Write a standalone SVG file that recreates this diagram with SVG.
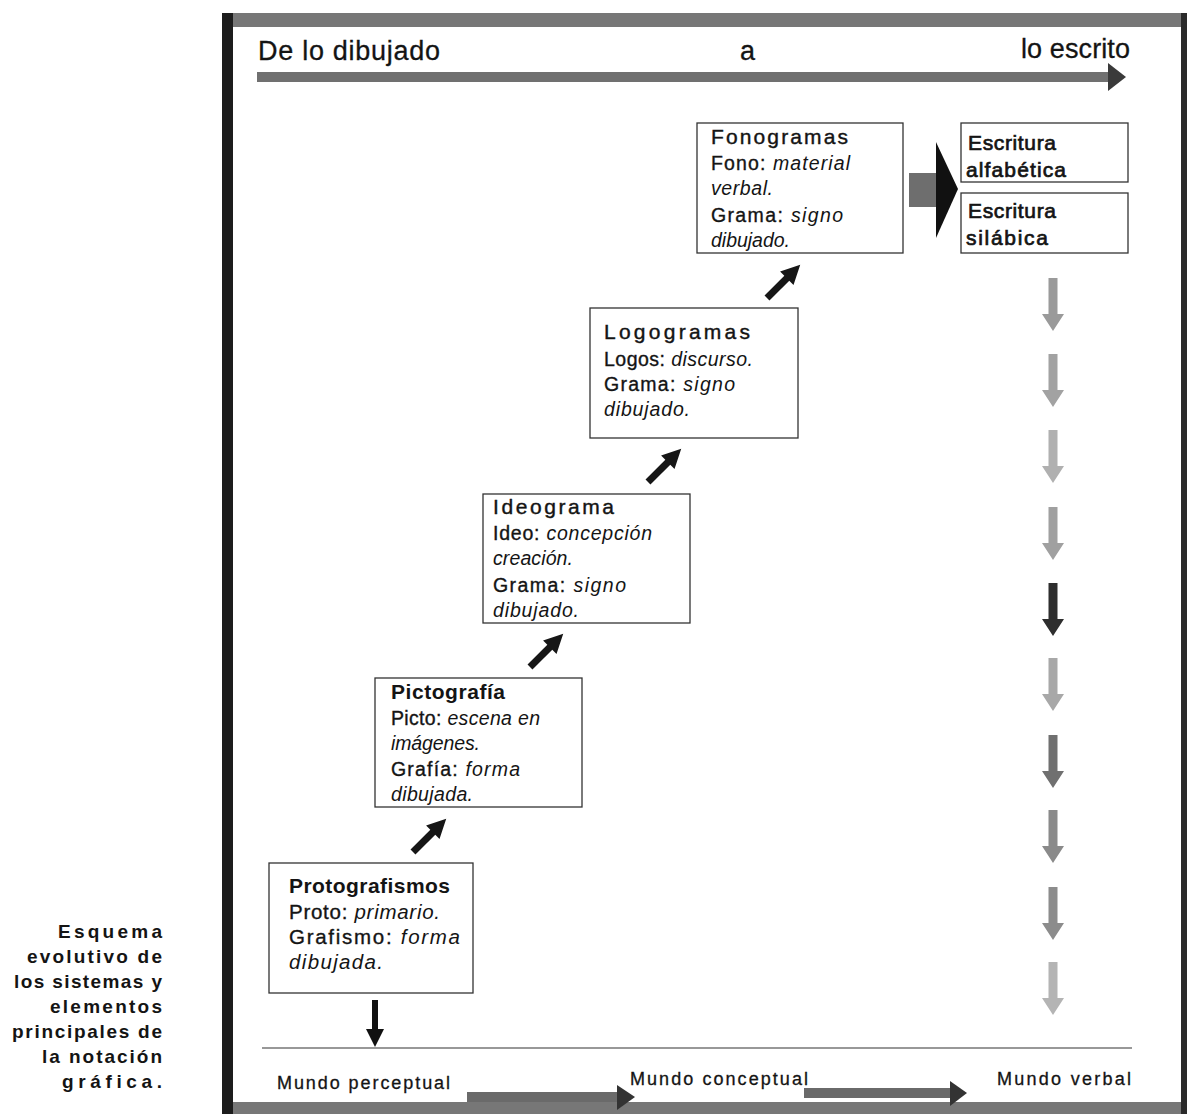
<svg xmlns="http://www.w3.org/2000/svg" xmlns:xlink="http://www.w3.org/1999/xlink" width="1187" height="1116" viewBox="0 0 1187 1116">
<style>
text{font-family:"Liberation Sans",Arial,sans-serif;fill:#141414;}
.t{font-size:21px;stroke:#141414;stroke-width:0.4;}
.tb{font-size:21px;font-weight:bold;}
.b{font-size:19.5px;stroke:#141414;stroke-width:0.35;}
.bp{font-size:20.5px;stroke:#141414;stroke-width:0.35;}
.i{font-style:italic;stroke:none;}
.hd{font-size:27px;stroke:#141414;stroke-width:0.3;}
.mu{font-size:18px;stroke:#141414;stroke-width:0.3;}
.cap{font-size:19px;font-weight:bold;}
.box{fill:#fff;stroke:#333;stroke-width:1.3;}
.es{font-size:21px;stroke:#141414;stroke-width:0.7;}
</style>
<defs>
<polygon id="diag" points="0,-3.5 28,-3.5 28,-9.5 47,0 28,9.5 28,3.5 0,3.5" fill="#161616"/>
<path id="varr" d="M-4.5,0 h9 v36 h6.5 l-11,17 l-11,-17 h6.5 z"/>
</defs>
<rect width="1187" height="1116" fill="#fff"/>

<g id="frame">
<rect x="224" y="13" width="963" height="14" fill="#777"/>
<rect x="224" y="1102" width="963" height="12" fill="#777"/>
<rect x="222" y="13" width="11" height="1101" fill="#1c1c1c"/>
<rect x="1181" y="13" width="6" height="1101" fill="#2a2a2a"/>
</g>

<g id="header">
<text class="hd" x="258" y="60" textLength="182" lengthAdjust="spacing">De lo dibujado</text>
<text class="hd" x="740" y="60">a</text>
<text class="hd" x="1021" y="58" textLength="109" lengthAdjust="spacing">lo escrito</text>
<rect x="257" y="72" width="853" height="10" fill="#707070"/>
<polygon points="1108,63 1126,77 1108,91" fill="#3a3a3a"/>
</g>

<g id="fonogramas">
<rect class="box" x="697" y="123" width="206" height="130"/>
<text class="t" x="711" y="144" textLength="137" lengthAdjust="spacing">Fonogramas</text>
<text class="b" x="711" y="170" textLength="139" lengthAdjust="spacing">Fono: <tspan class="i">material</tspan></text>
<text class="b" x="711" y="195" textLength="62" lengthAdjust="spacing"><tspan class="i">verbal.</tspan></text>
<text class="b" x="711" y="222" textLength="132" lengthAdjust="spacing">Grama: <tspan class="i">signo</tspan></text>
<text class="b" x="711" y="247" textLength="79" lengthAdjust="spacing"><tspan class="i">dibujado.</tspan></text>
</g>

<g id="alfabetica">
<rect class="box" x="961" y="123" width="167" height="59"/>
<text class="es" x="968" y="150" textLength="88" lengthAdjust="spacing">Escritura</text>
<text class="es" x="966" y="177" textLength="100" lengthAdjust="spacing">alfabética</text>
</g>
<g id="silabica">
<rect class="box" x="961" y="193" width="167" height="60"/>
<text class="es" x="968" y="218" textLength="88" lengthAdjust="spacing">Escritura</text>
<text class="es" x="966" y="245" textLength="82" lengthAdjust="spacing">silábica</text>
</g>

<g id="logogramas">
<rect class="box" x="590" y="308" width="208" height="130"/>
<text class="t" x="604" y="339" textLength="146" lengthAdjust="spacing">Logogramas</text>
<text class="b" x="604" y="366" textLength="149" lengthAdjust="spacing">Logos: <tspan class="i">discurso.</tspan></text>
<text class="b" x="604" y="391" textLength="131" lengthAdjust="spacing">Grama: <tspan class="i">signo</tspan></text>
<text class="b" x="604" y="416" textLength="86" lengthAdjust="spacing"><tspan class="i">dibujado.</tspan></text>
</g>

<g id="ideograma">
<rect class="box" x="483" y="494" width="207" height="129"/>
<text class="t" x="493" y="514" textLength="121" lengthAdjust="spacing">Ideograma</text>
<text class="b" x="493" y="540" textLength="159" lengthAdjust="spacing">Ideo: <tspan class="i">concepción</tspan></text>
<text class="b" x="493" y="565" textLength="80" lengthAdjust="spacing"><tspan class="i">creación.</tspan></text>
<text class="b" x="493" y="592" textLength="133" lengthAdjust="spacing">Grama: <tspan class="i">signo</tspan></text>
<text class="b" x="493" y="617" textLength="86" lengthAdjust="spacing"><tspan class="i">dibujado.</tspan></text>
</g>

<g id="pictografia">
<rect class="box" x="375" y="678" width="207" height="129"/>
<text class="tb" x="391" y="699" textLength="114" lengthAdjust="spacing">Pictografía</text>
<text class="b" x="391" y="725" textLength="149" lengthAdjust="spacing">Picto: <tspan class="i">escena en</tspan></text>
<text class="b" x="391" y="750" textLength="89" lengthAdjust="spacing"><tspan class="i">imágenes.</tspan></text>
<text class="b" x="391" y="776" textLength="129" lengthAdjust="spacing">Grafía: <tspan class="i">forma</tspan></text>
<text class="b" x="391" y="801" textLength="82" lengthAdjust="spacing"><tspan class="i">dibujada.</tspan></text>
</g>

<g id="protografismos">
<rect class="box" x="269" y="863" width="204" height="130"/>
<text class="tb" x="289" y="893" textLength="161" lengthAdjust="spacing">Protografismos</text>
<text class="bp" x="289" y="919" textLength="151" lengthAdjust="spacing">Proto: <tspan class="i">primario.</tspan></text>
<text class="bp" x="289" y="944" textLength="171" lengthAdjust="spacing">Grafismo: <tspan class="i">forma</tspan></text>
<text class="bp" x="289" y="969" textLength="94" lengthAdjust="spacing"><tspan class="i">dibujada.</tspan></text>
</g>

<g id="connectors">
<use xlink:href="#diag" href="#diag" transform="translate(413,852) rotate(-45)"/>
<use xlink:href="#diag" href="#diag" transform="translate(530,667) rotate(-45)"/>
<use xlink:href="#diag" href="#diag" transform="translate(648,482) rotate(-45)"/>
<use xlink:href="#diag" href="#diag" transform="translate(767,298) rotate(-45)"/>
<rect x="909" y="173" width="29" height="34" fill="#6e6e6e"/>
<polygon points="936,142 958,189 936,238" fill="#111"/>
<polygon points="372,1000 378,1000 378,1029 384,1029 375,1047 366,1029 372,1029" fill="#111"/>
<g transform="translate(1053,0)">
<use xlink:href="#varr" href="#varr" y="278" fill="#9a9a9a"/>
<use xlink:href="#varr" href="#varr" y="354" fill="#a2a2a2"/>
<use xlink:href="#varr" href="#varr" y="430" fill="#b0b0b0"/>
<use xlink:href="#varr" href="#varr" y="507" fill="#a0a0a0"/>
<use xlink:href="#varr" href="#varr" y="583" fill="#2e2e2e"/>
<use xlink:href="#varr" href="#varr" y="658" fill="#a8a8a8"/>
<use xlink:href="#varr" href="#varr" y="735" fill="#707070"/>
<use xlink:href="#varr" href="#varr" y="810" fill="#8a8a8a"/>
<use xlink:href="#varr" href="#varr" y="887" fill="#8c8c8c"/>
<use xlink:href="#varr" href="#varr" y="962" fill="#b4b4b4"/>
</g>
<rect x="467" y="1092" width="152" height="10" fill="#6a6a6a"/>
<polygon points="617,1085 635,1097 617,1110" fill="#333"/>
<rect x="804" y="1088" width="148" height="10" fill="#6a6a6a"/>
<polygon points="950,1081 967,1093 950,1106" fill="#333"/>
</g>

<g id="footer">
<line x1="262" y1="1048" x2="1132" y2="1048" stroke="#333" stroke-width="1.2"/>
<text class="mu" x="277" y="1089" textLength="173" lengthAdjust="spacing">Mundo perceptual</text>
<text class="mu" x="630" y="1085" textLength="178" lengthAdjust="spacing">Mundo conceptual</text>
<text class="mu" x="997" y="1085" textLength="134" lengthAdjust="spacing">Mundo verbal</text>
</g>

<g id="caption">
<text class="cap" x="58" y="938" textLength="104" lengthAdjust="spacing">Esquema</text>
<text class="cap" x="27" y="963" textLength="135" lengthAdjust="spacing">evolutivo de</text>
<text class="cap" x="14" y="988" textLength="148" lengthAdjust="spacing">los sistemas y</text>
<text class="cap" x="50" y="1013" textLength="112" lengthAdjust="spacing">elementos</text>
<text class="cap" x="12" y="1038" textLength="150" lengthAdjust="spacing">principales de</text>
<text class="cap" x="42" y="1063" textLength="120" lengthAdjust="spacing">la notación</text>
<text class="cap" x="62" y="1088" textLength="100" lengthAdjust="spacing">gráfica.</text>
</g>
</svg>
